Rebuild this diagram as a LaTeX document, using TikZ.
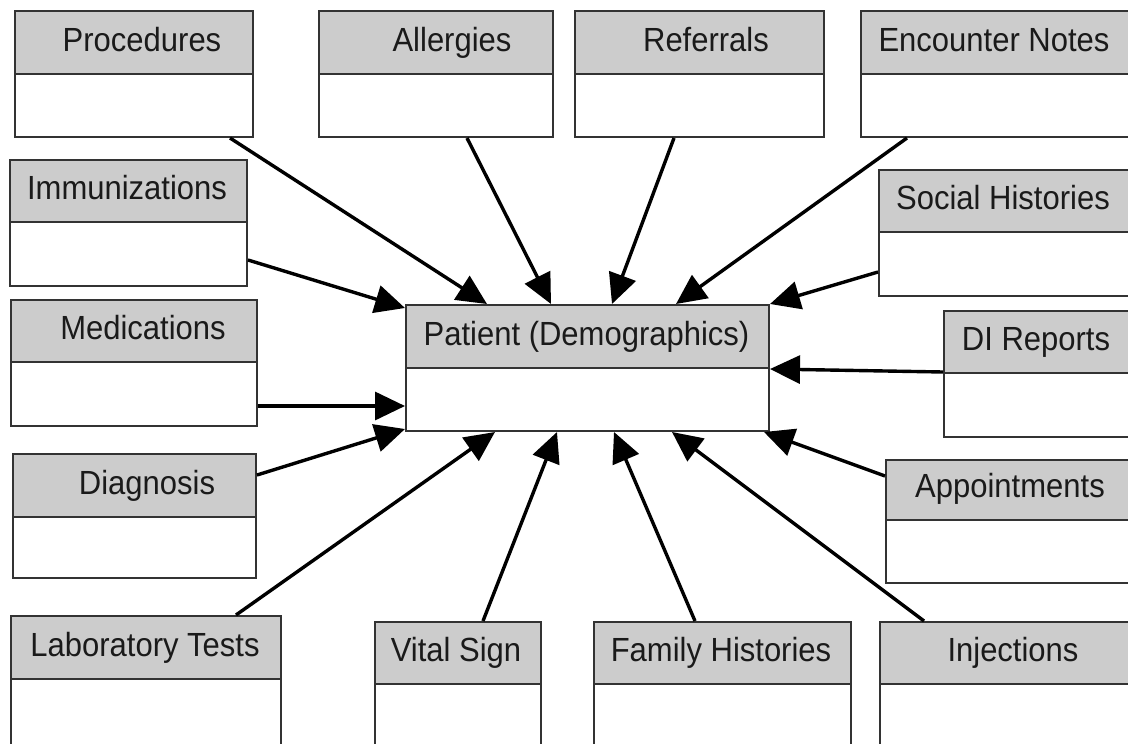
\documentclass[tikz,border=0pt]{standalone}
\usepackage{fontspec}
\setmainfont{Liberation Sans}
\usetikzlibrary{arrows.meta}
\definecolor{hdrgray}{RGB}{204,204,204}
\definecolor{boxline}{RGB}{51,51,51}
\definecolor{textc}{RGB}{26,26,26}
\tikzset{
  hdr/.style={draw=boxline, fill=hdrgray, line width=2pt, inner sep=0pt, anchor=north west},
  bdy/.style={draw=boxline, fill=white, line width=2pt, inner sep=0pt, anchor=north west},
  lbl/.style={anchor=base, inner sep=0pt, font=\fontsize{31}{36}\selectfont, text=textc,
    yscale=1.08, transform shape},
  link/.style={line width=3.4pt, -{Triangle[length=30pt,width=28pt]}},
}
% #1 name, #2 left, #3 right, #4 top, #5 divider, #6 bottom, #7 label x, #8 label
\newcommand\classbox[8]{%
  \pgfmathsetmacro\cbW{#3-#2}%
  \pgfmathsetmacro\cbHh{#5-#4}%
  \pgfmathsetmacro\cbHb{#6-#5}%
  \pgfmathsetmacro\cbTy{#5-22}%
  \node[hdr, minimum width=\cbW pt, minimum height=\cbHh pt] (#1) at (#2,#4) {};
  \node[bdy, minimum width=\cbW pt, minimum height=\cbHb pt] (#1b) at (#2,#5) {};
  \node[lbl] (#1t) at (#7,\cbTy) {#8};
}
\begin{document}
\begin{tikzpicture}[x=1pt, y=-1pt]
\fill[white] (0,0) rectangle (1128,744);
\useasboundingbox (0,0) rectangle (1128,744);

% entity boxes
\classbox{proc}{14}{252}{10}{73}{136}{142}{Procedures}
\classbox{all}{318}{552}{10}{73}{136}{452}{Allergies}
\classbox{ref}{574}{823}{10}{73}{136}{706}{Referrals}
\classbox{enc}{860}{1140}{10}{73}{136}{994}{Encounter Notes}
\classbox{imm}{9}{246}{159}{221}{285}{127}{Immunizations}
\classbox{soc}{878}{1140}{169}{231}{295}{1003}{Social Histories}
\classbox{med}{10}{256}{299}{361}{425}{143}{Medications}
\classbox{pat}{405}{768}{304}{367}{430}{586.5}{Patient (Demographics)}
\classbox{di}{943}{1140}{310}{372}{436}{1036}{DI Reports}
\classbox{dia}{12}{255}{453}{516}{577}{147}{Diagnosis}
\classbox{app}{885}{1140}{459}{519}{582}{1010}{Appointments}
\classbox{lab}{10}{280}{615}{678}{756}{145}{Laboratory Tests}
\classbox{vit}{374}{540}{621}{683}{756}{456}{Vital Sign}
\classbox{fam}{593}{850}{621}{683}{756}{721}{Family Histories}
\classbox{inj}{879}{1140}{621}{683}{756}{1013}{Injections}

% associations towards the patient
\draw[link] ([xshift=216pt]procb.south west) -- ([xshift=82pt]pat.north west);
\draw[link] ([xshift=149pt]allb.south west) -- ([xshift=146pt]pat.north west);
\draw[link] ([xshift=100pt]refb.south west) -- ([xshift=207pt]pat.north west);
\draw[link] ([xshift=47pt]encb.south west) -- ([xshift=271pt]pat.north west);
\draw[link] ([yshift=-39pt]immb.north east) -- ([yshift=-4pt]pat.north west);
\draw[link] ([yshift=-41pt]socb.north west) -- (pat.north east);
\draw[link] ([yshift=-45pt]medb.north east) -- ([yshift=-39pt]patb.north west);
\draw[link] (dib.north west) -- (pat.south east);
\draw[link] ([yshift=-22pt]dia.north east) -- ([yshift=3pt]patb.south west);
\draw[link] ([yshift=-17pt]app.north west) -- ([xshift=-6pt]patb.south east);
\draw[link] ([xshift=226pt]lab.north west) -- ([xshift=90pt]patb.south west);
\draw[link] ([xshift=109pt]vit.north west) -- ([xshift=152pt]patb.south west);
\draw[link] ([xshift=102pt]fam.north west) -- ([xshift=209pt]patb.south west);
\draw[link] ([xshift=45pt]inj.north west) -- ([xshift=267pt]patb.south west);
\end{tikzpicture}
\end{document}
